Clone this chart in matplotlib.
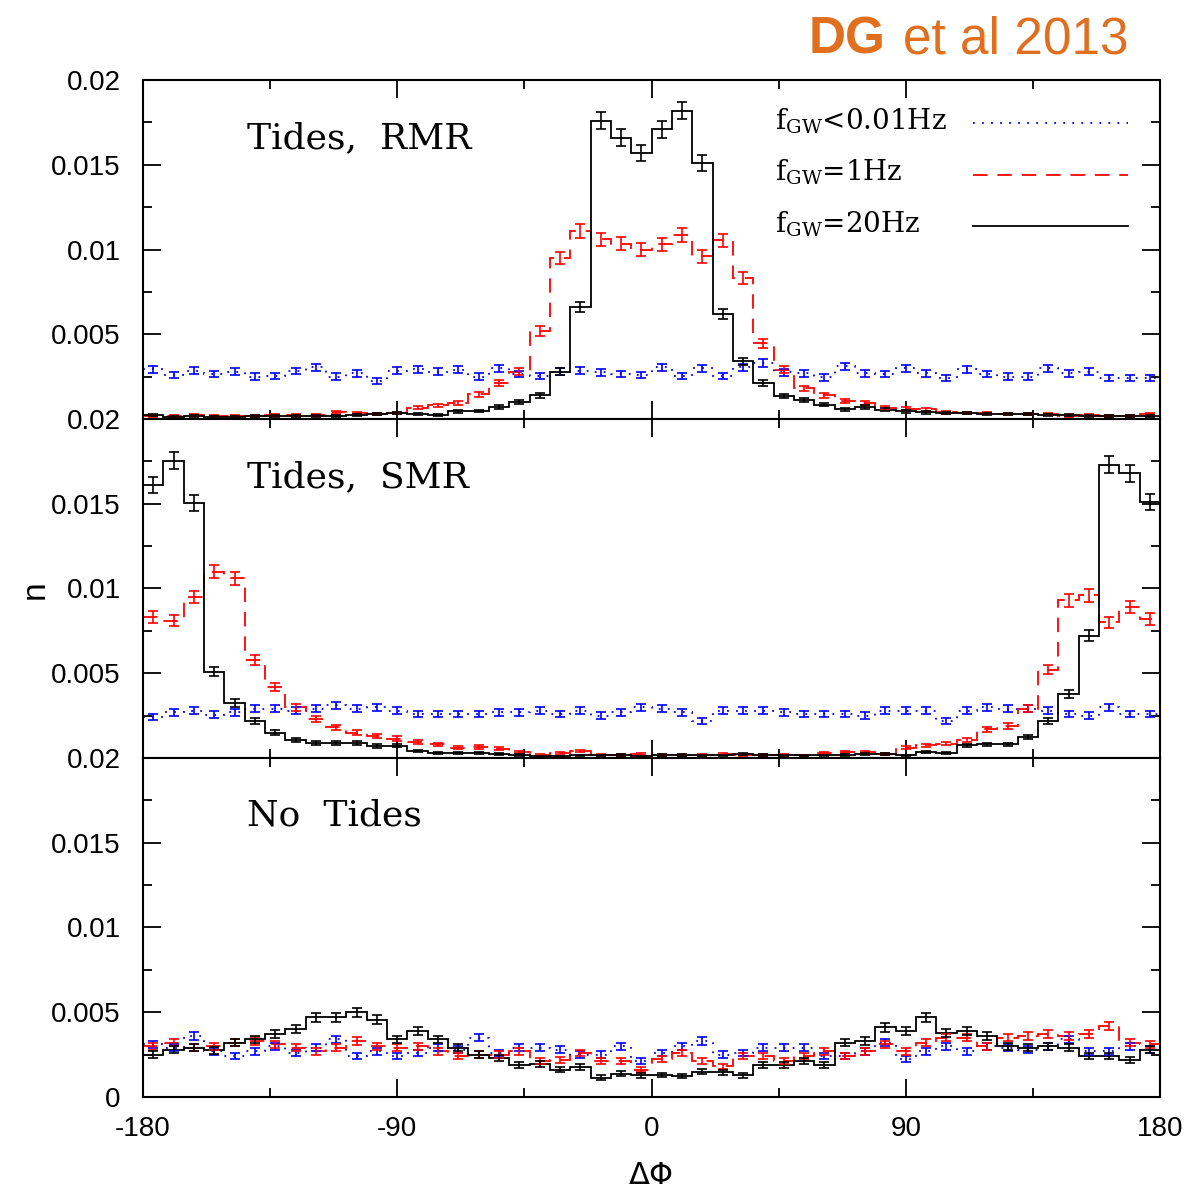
import numpy as np
import matplotlib.pyplot as plt
from matplotlib.ticker import FixedLocator, FixedFormatter

plt.rcParams['mathtext.fontset'] = 'dejavuserif'
plt.rcParams['axes.unicode_minus'] = False

# 50 bins of 7.2 deg over [-180, 180]
edges = np.linspace(-180, 180, 51)
centers = 0.5 * (edges[:-1] + edges[1:])

# Tides, RMR
rmr_low = [0.00295, 0.0026, 0.00285, 0.00265, 0.0028, 0.0025, 0.00255, 0.00283, 0.00305, 0.0025,
           0.0027, 0.00225, 0.00285, 0.00295, 0.0028, 0.0029, 0.0025, 0.0030, 0.00265, 0.00255,
           0.0028, 0.00285, 0.00275, 0.00265, 0.0026, 0.00305, 0.00255, 0.0030, 0.00255, 0.00305,
           0.0033, 0.00275, 0.0027, 0.00245, 0.0031, 0.0027, 0.00265, 0.0030, 0.0027, 0.0024,
           0.00295, 0.00265, 0.0025, 0.0025, 0.0030, 0.0027, 0.0028, 0.0024, 0.0024, 0.0024]
rmr_1hz = [0.0002, 0.0002, 0.00025, 0.0002, 0.0002, 0.0002, 0.00025, 0.00025, 0.00025, 0.0004,
           0.00035, 0.0003, 0.00035, 0.00067, 0.0008, 0.00097, 0.00146, 0.00214, 0.0028, 0.0052,
           0.0095, 0.0111, 0.0106, 0.01035, 0.0100, 0.0103, 0.01086, 0.0096, 0.01055, 0.0083,
           0.00447, 0.0029, 0.0018, 0.0014, 0.00105, 0.00095, 0.00065, 0.0006, 0.00058, 0.0004,
           0.00035, 0.00035, 0.0003, 0.00028, 0.00027, 0.0002, 0.00025, 0.0002, 0.0002, 0.0003]
rmr_20hz = [0.00022, 0.00013, 0.00016, 0.00013, 0.00013, 0.00016, 0.0002, 0.00018, 0.0002, 0.0002,
            0.00025, 0.0003, 0.00034, 0.0003, 0.00025, 0.00045, 0.00047, 0.0007, 0.001, 0.0014,
            0.0028, 0.0066, 0.0176, 0.0166, 0.0157, 0.0171, 0.0182, 0.0151, 0.0062, 0.0034,
            0.0021, 0.00135, 0.0011, 0.00085, 0.00057, 0.0007, 0.00055, 0.00045, 0.0004, 0.00035,
            0.00035, 0.0003, 0.0003, 0.0003, 0.00022, 0.00022, 0.0002, 0.0002, 0.0002, 0.0002]

# Tides, SMR
smr_low = [0.0024, 0.0027, 0.0028, 0.00256, 0.0027, 0.0029, 0.0029, 0.0028, 0.0029, 0.0031,
           0.0029, 0.0030, 0.0028, 0.0026, 0.0026, 0.0026, 0.0026, 0.0027, 0.0027, 0.0028,
           0.0026, 0.0028, 0.0025, 0.0027, 0.0030, 0.0029, 0.0027, 0.0022, 0.0028, 0.0028,
           0.0028, 0.0027, 0.0026, 0.0026, 0.0026, 0.0025, 0.0028, 0.0028, 0.0028, 0.0022,
           0.0028, 0.0030, 0.0029, 0.0029, 0.0028, 0.0026, 0.0025, 0.0030, 0.0026, 0.0026]
smr_1hz = [0.0083, 0.0081, 0.0095, 0.0110, 0.0106, 0.0058, 0.0042, 0.0030, 0.0023, 0.0018,
           0.0015, 0.0013, 0.00114, 0.00095, 0.0008, 0.0006, 0.00065, 0.00055, 0.00035, 0.00016,
           0.0003, 0.0004, 0.0002, 0.0002, 0.00025, 0.0002, 0.0002, 0.0002, 0.00025, 0.0002,
           0.0002, 0.0002, 0.00015, 0.0003, 0.00035, 0.00035, 0.00025, 0.0006, 0.00075, 0.00085,
           0.00105, 0.0017, 0.0019, 0.0029, 0.0052, 0.0093, 0.0096, 0.0080, 0.0089, 0.0082]
smr_20hz = [0.0161, 0.01755, 0.01505, 0.0051, 0.00325, 0.0022, 0.0015, 0.00105, 0.0009, 0.0009,
            0.0009, 0.0007, 0.00073, 0.0004, 0.0003, 0.0003, 0.0003, 0.00025, 0.0002, 0.0001,
            0.0001, 0.00015, 0.00015, 0.0002, 0.0001, 0.0002, 0.0002, 0.00015, 0.00015, 0.00025,
            0.0002, 0.00015, 0.00015, 0.00015, 0.0002, 0.00025, 0.00025, 0.00015, 0.00035, 0.0003,
            0.00075, 0.0008, 0.0008, 0.00125, 0.0022, 0.00375, 0.0072, 0.0173, 0.0168, 0.0151]

# No Tides
nt_low = [0.0031, 0.0029, 0.0036, 0.0027, 0.0024, 0.0027, 0.0030, 0.0026, 0.0029, 0.0034,
          0.0024, 0.0027, 0.0024, 0.0026, 0.0029, 0.0028, 0.0035, 0.0026, 0.0029, 0.0029,
          0.0028, 0.0025, 0.0025, 0.0030, 0.0021, 0.0026, 0.0030, 0.0033, 0.0025, 0.0026,
          0.0029, 0.0029, 0.0029, 0.0024, 0.0024, 0.0027, 0.0032, 0.00225, 0.0027, 0.0030,
          0.0027, 0.0030, 0.0029, 0.0028, 0.0030, 0.0034, 0.0027, 0.0027, 0.0030, 0.0028]
nt_1hz = [0.0030, 0.0032, 0.0029, 0.0030, 0.0032, 0.0033, 0.0031, 0.0029, 0.0027, 0.0029,
          0.0033, 0.0030, 0.0029, 0.0030, 0.0027, 0.0024, 0.0025, 0.0025, 0.0027, 0.0021,
          0.0022, 0.0026, 0.0021, 0.0021, 0.0016, 0.00225, 0.0026, 0.0021, 0.0018, 0.0024,
          0.0024, 0.0021, 0.0024, 0.0027, 0.0024, 0.0027, 0.0031, 0.0027, 0.0032, 0.0035,
          0.0035, 0.0030, 0.0035, 0.0036, 0.0037, 0.0036, 0.0037, 0.0042, 0.0032, 0.0031]
nt_20hz = [0.0025, 0.0028, 0.0029, 0.00275, 0.0032, 0.0034, 0.0037, 0.0040, 0.0047, 0.0047,
           0.0050, 0.00457, 0.0034, 0.0039, 0.0034, 0.0029, 0.0025, 0.0023, 0.0019, 0.00196,
           0.0016, 0.00176, 0.00114, 0.00137, 0.00127, 0.0013, 0.00123, 0.0015, 0.00147, 0.00127,
           0.0019, 0.0019, 0.0021, 0.0019, 0.0032, 0.0033, 0.0041, 0.0039, 0.0047, 0.0038,
           0.0039, 0.0036, 0.0030, 0.0029, 0.0030, 0.0029, 0.0024, 0.0024, 0.0022, 0.0028]

panels = [('Tides,  RMR', rmr_low, rmr_1hz, rmr_20hz),
          ('Tides,  SMR', smr_low, smr_1hz, smr_20hz),
          ('No  Tides', nt_low, nt_1hz, nt_20hz)]

series_labels = [r'f$_{\rm GW}$<0.01Hz', r'f$_{\rm GW}$=1Hz', r'f$_{\rm GW}$=20Hz']
series_colors = ['#0000ff', '#ff0000', 'black']
series_styles = [(0, (1, 4)), (0, (8, 5.5)), '-']

# poisson-like error on each normalised bin
ERR_SCALE = 0.0038

sans = 'Liberation Sans'
serif = 'DejaVu Serif'

fig, axes = plt.subplots(3, 1, figsize=(11.92, 11.89), dpi=100, sharex=True)
fig.subplots_adjust(left=0.12, right=0.9732, top=0.9327, bottom=0.0774, hspace=0)

for k, (ax, (title, *curves)) in enumerate(zip(axes, panels)):
    for vals, color, ls in zip(curves, series_colors, series_styles):
        v = np.asarray(vals)
        ax.stairs(v, edges, baseline=None, color=color, linestyle=ls, lw=1.3)
        ax.errorbar(centers, v, yerr=ERR_SCALE * np.sqrt(v), fmt='none', ecolor=color,
                    elinewidth=1.2, capsize=3.8, capthick=1.2)

    ax.set_xlim(-180, 180)
    ax.set_ylim(0, 0.02)
    ax.xaxis.set_major_locator(FixedLocator([-180, -90, 0, 90, 180]))
    ax.xaxis.set_minor_locator(FixedLocator([-135, -45, 45, 135]))
    ax.yaxis.set_major_locator(FixedLocator([0, 0.005, 0.01, 0.015, 0.02]))
    ax.yaxis.set_minor_locator(FixedLocator([0.0025, 0.0075, 0.0125, 0.0175]))
    ylabels = ['0', '0.005', '0.01', '0.015', '0.02']
    if k < 2:
        ylabels[0] = ''
    ax.yaxis.set_major_formatter(FixedFormatter(ylabels))
    ax.tick_params(which='both', direction='in', top=True, right=True, width=1.3)
    ax.tick_params(which='major', length=13)
    ax.tick_params(which='minor', length=6.5)
    ax.tick_params(axis='y', pad=16)
    ax.tick_params(axis='x', pad=14)
    for lab in ax.get_xticklabels() + ax.get_yticklabels():
        lab.set_fontfamily(sans)
        lab.set_fontsize(20)
    for sp in ax.spines.values():
        sp.set_linewidth(1.5)

    ax.text(0.102, 0.80, title, transform=ax.transAxes, family=serif, fontsize=26,
            va='baseline', ha='left')

# legend drawn by hand in the top panel
ax0 = axes[0]
for row, (lab, color, ls) in enumerate(zip(series_labels, series_colors, series_styles)):
    yb = 0.855 - 0.152 * row
    ax0.text(0.621, yb, lab, transform=ax0.transAxes, family=serif, fontsize=20,
             va='baseline', ha='left')
    ax0.plot([0.816, 0.9685], [yb + 0.017] * 2, transform=ax0.transAxes, color=color,
             linestyle=ls, lw=1.3)

fig.text(35 / 1192, 1 - 590 / 1189, 'n', rotation=90, family=sans, fontsize=24,
         ha='center', va='center')
fig.text(651 / 1192, 1 - 1176 / 1189, r'$\Delta\Phi$', fontsize=22, ha='center', va='center',
         math_fontfamily='dejavusans')

fig.text(885 / 1192, 1 - 53 / 1189, 'DG', family=sans, weight='bold', fontsize=37,
         color='#e07020', ha='right', va='baseline')
fig.text(903 / 1192, 1 - 53 / 1189, 'et al 2013', family=sans, fontsize=37,
         color='#e07020', ha='left', va='baseline')

fig.savefig('out.png', dpi=100)
